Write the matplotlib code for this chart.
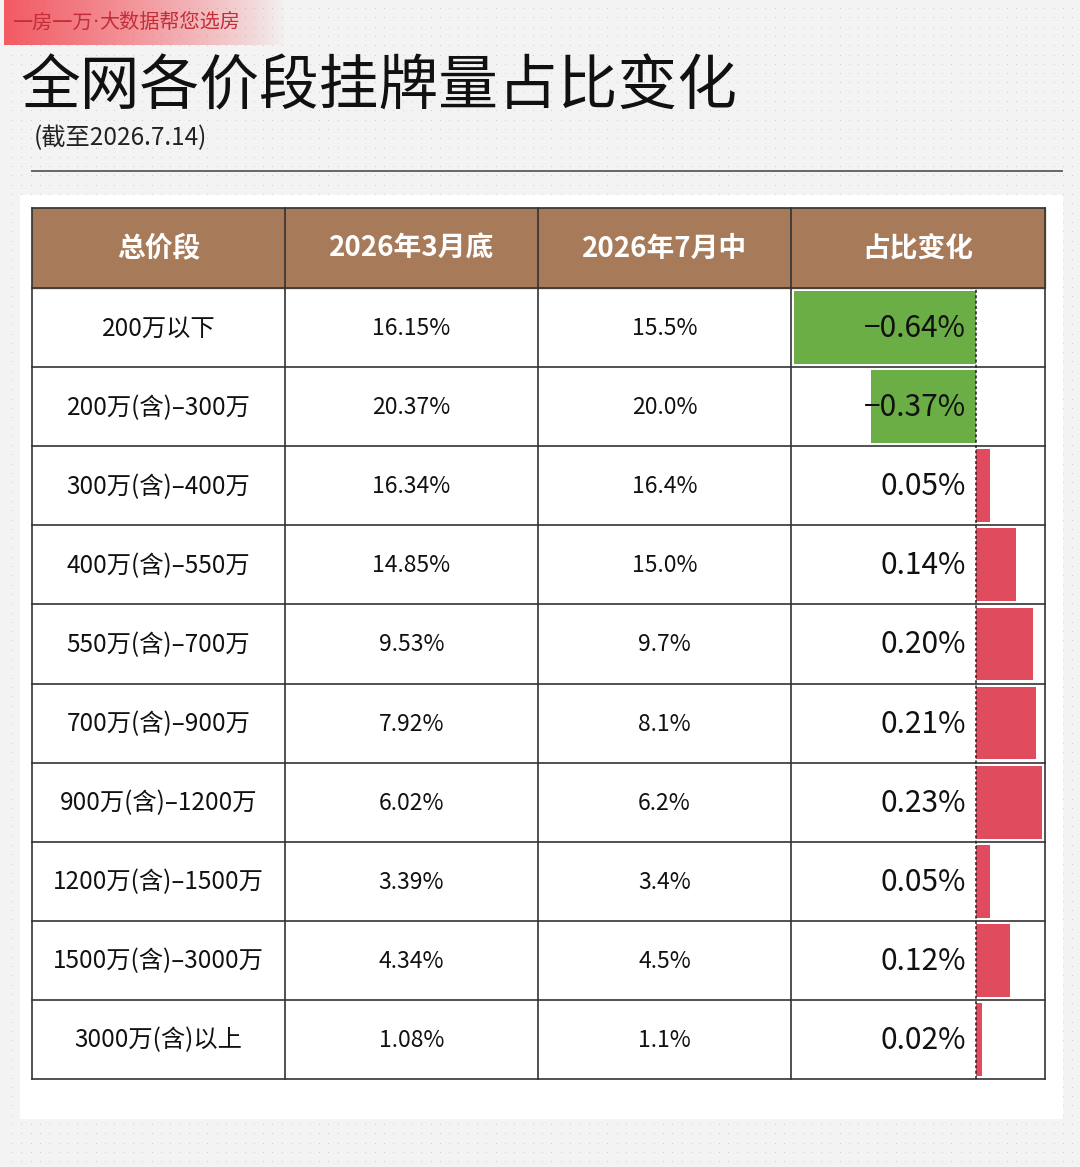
import numpy as np
import matplotlib.pyplot as plt

plt.rcParams['font.family'] = ['Noto Sans CJK SC', 'DejaVu Sans']

# ---- data ----
segments = ['200万以下', '200万(含)–300万', '300万(含)–400万', '400万(含)–550万',
            '550万(含)–700万', '700万(含)–900万', '900万(含)–1200万',
            '1200万(含)–1500万', '1500万(含)–3000万', '3000万(含)以上']
share_mar = ['16.15%', '20.37%', '16.34%', '14.85%', '9.53%', '7.92%',
             '6.02%', '3.39%', '4.34%', '1.08%']
share_jul = ['15.5%', '20.0%', '16.4%', '15.0%', '9.7%', '8.1%',
             '6.2%', '3.4%', '4.5%', '1.1%']
change = [-0.64, -0.37, 0.05, 0.14, 0.20, 0.21, 0.23, 0.05, 0.12, 0.02]
headers = ['总价段', '2026年3月底', '2026年7月中', '占比变化']

W, H = 1080, 1167
fig = plt.figure(figsize=(W / 100, H / 100), dpi=100)
ax = fig.add_axes([0, 0, 1, 1])
ax.set_xlim(0, W)
ax.set_ylim(H, 0)
ax.axis('off')

# background with dots
ax.add_patch(plt.Rectangle((0, 0), W, H, color='#F3F3F3', zorder=0))
gx, gy = np.meshgrid(np.arange(12, W, 9.3), np.arange(8, H, 9.3))
ax.scatter(gx.ravel(), gy.ravel(), s=0.6, color='#C9C9C9', zorder=1, linewidths=0)

# top banner gradient
grad = np.zeros((1, 256, 4))
grad[0, :, 0] = 0.95
grad[0, :, 1] = 0.30
grad[0, :, 2] = 0.34
grad[0, :, 3] = np.linspace(0.9, 0.0, 256) ** 0.8
ax.imshow(grad, extent=(4, 285, 45, 0), aspect='auto', zorder=2)

# banner text, narrow middle dot taken from DejaVu
renderer = fig.canvas.get_renderer()
x = 12
for part, fam in (('一房一万', None), ('·', 'DejaVu Sans'), ('大数据帮您选房', None)):
    kw = {'family': fam} if fam else {}
    t = ax.text(x, 23, part, fontsize=14.5, color='#C42C38',
                va='center', ha='left', zorder=3, **kw)
    bb = t.get_window_extent(renderer)
    x += bb.width

# title
ax.text(20, 88, '全网各价段挂牌量占比变化', fontsize=43, color='#111111',
        va='center', ha='left', zorder=3)
ax.text(34, 138, '(截至2026.7.14)', fontsize=17.5, color='#222222',
        va='center', ha='left', zorder=3)
ax.plot([32, 1062], [171, 171], color='#666666', lw=1.4, zorder=3)

# white panel
ax.add_patch(plt.Rectangle((20, 195), 1042, 923, color='white', zorder=2))

# table geometry
col_x = [32, 285, 538, 791, 1045]
top, head_h, row_h = 208, 80, 79.1
n = len(segments)
bottom = top + head_h + n * row_h

ax.add_patch(plt.Rectangle((col_x[0], top), col_x[-1] - col_x[0], head_h,
                           color='#A77B5A', zorder=3))
for j, h in enumerate(headers):
    ax.text((col_x[j] + col_x[j + 1]) / 2, top + head_h / 2 + 1, h,
            fontsize=20, color='white', fontweight='bold',
            ha='center', va='center', zorder=5)

for i in range(n):
    yc = top + head_h + (i + 0.5) * row_h + 1
    ax.text((col_x[0] + col_x[1]) / 2, yc, segments[i], fontsize=17.5,
            color='#111111', ha='center', va='center', zorder=6)
    for j, v in ((1, share_mar[i]), (2, share_jul[i])):
        ax.text((col_x[j] + col_x[j + 1]) / 2, yc, v, fontsize=16.5,
                color='#111111', ha='center', va='center', zorder=6)

# grid lines
for x in col_x:
    ax.plot([x, x], [top, bottom], color='#333333', lw=1.2, zorder=7)
for i in range(n + 2):
    y = top if i == 0 else top + head_h + (i - 1) * row_h
    ax.plot([col_x[0], col_x[-1]], [y, y], color='#333333', lw=1.2, zorder=7)

# bars in the change column
zero_px = 976
px_per_pct = 285
bx0, bx1 = col_x[3] + 2, col_x[4]
by0, by1 = top + head_h, bottom
bax = fig.add_axes([bx0 / W, 1 - by1 / H, (bx1 - bx0) / W, (by1 - by0) / H])
bax.set_xlim(-(zero_px - bx0) / px_per_pct, (bx1 - zero_px) / px_per_pct)
bax.set_ylim(n - 0.5, -0.5)
colors = ['#6AAE45' if c < 0 else '#E04B5E' for c in change]
bax.barh(np.arange(n), change, height=0.92, color=colors, zorder=2)
bax.axvline(0, color='#222222', lw=1.1, ls=(0, (2, 1.5)), zorder=3)
bax.patch.set_alpha(0)
bax.axis('off')

# change labels on top of the bars
for i in range(n):
    yc = top + head_h + (i + 0.5) * row_h + 1
    txt = f'{change[i]:.2f}%'.replace('-', '−')
    fig.text(966, yc, txt, fontsize=21.5, color='#111111', ha='right',
             va='center', transform=ax.transData, zorder=10)

fig.savefig('out.png', dpi=100)
